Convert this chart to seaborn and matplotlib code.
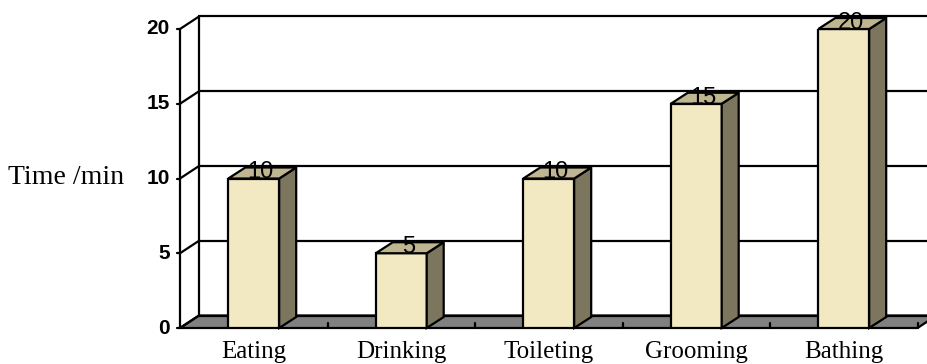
import numpy as np
import matplotlib
matplotlib.use("Agg")
import matplotlib.pyplot as plt
import seaborn as sns
from matplotlib.patches import Polygon

# data
categories = ["Eating", "Drinking", "Toileting", "Grooming", "Bathing"]
minutes = [10, 5, 10, 15, 20]
y_ticks = [0, 5, 10, 15, 20]
y_label = "Time /min"

front_color = "#F2E8C1"
top_color = "#C0B591"
side_color = "#7D765F"
floor_color = "#808080"

sns.set_style("white")
plt.rcParams["font.family"] = ["Liberation Sans", "DejaVu Sans"]
plt.rcParams["text.color"] = "black"

fig = plt.figure(figsize=(9.27, 3.64), dpi=100)
ax = fig.add_axes([180 / 927, 36 / 364, 737.5 / 927, 299 / 364])
ax.patch.set_alpha(0)

sns.barplot(x=categories, y=minutes, color=front_color, width=0.345,
            edgecolor="black", linewidth=1.6, saturation=1, ax=ax, zorder=3)
ax.set_xlim(-0.5, len(categories) - 0.5)
ax.set_ylim(0, 20)
ax.set_xticks([])
ax.set_yticks([])
ax.set_xlabel("")
ax.set_ylabel("")
for s in ax.spines.values():
    s.set_visible(False)


def shift(x, y, dx, dy):
    # move a data point by some pixels (the 3D depth)
    px = ax.transData.transform([[x, y]])[0] + [dx, dy]
    return ax.transData.inverted().transform([px])[0]


wall_dx, wall_dy = 19, 12.5
bar_dx, bar_dy = 17, 11
xl, xr = -0.5, len(categories) - 0.5
lw = 1.6

bars = list(ax.patches)

# floor
floor = [(xl, 0), (xr, 0), shift(xr, 0, wall_dx, wall_dy), shift(xl, 0, wall_dx, wall_dy)]
ax.add_patch(Polygon(floor, closed=True, facecolor=floor_color, edgecolor="black",
                     linewidth=lw, clip_on=False, zorder=1))

# back wall grid lines + left wall
for v in y_ticks:
    b0 = shift(xl, v, wall_dx, wall_dy)
    b1 = shift(xr + 0.2, v, wall_dx, wall_dy)
    ax.plot([b0[0], b1[0]], [b0[1], b1[1]], color="black", lw=lw, clip_on=False, zorder=1.5)
    ax.plot([xl, b0[0]], [v, b0[1]], color="black", lw=lw, clip_on=False, zorder=1.5)
    t = shift(xl, v, -3, 0)
    ax.plot([t[0], xl], [v, v], color="black", lw=lw, clip_on=False, zorder=1.5)
    ax.text(-0.0136, v, str(v), transform=ax.get_yaxis_transform(), ha="right", va="center",
            fontsize=15, fontweight="bold", color="black")

bl0 = shift(xl, 0, wall_dx, wall_dy)
bl1 = shift(xl, 20, wall_dx, wall_dy)
ax.plot([bl0[0], bl1[0]], [bl0[1], bl1[1]], color="black", lw=lw, clip_on=False, zorder=1.5)
ax.plot([xl, xl], [0, 20], color="black", lw=lw, clip_on=False, zorder=1.5)

# small ticks on the floor front edge
for k in range(1, len(categories) + 1):
    xk = k - 0.5
    t = shift(xk, 0, 0, 5)
    ax.plot([xk, xk], [0, t[1]], color="black", lw=lw, clip_on=False, zorder=1.6)

# 3D faces of the bars
for p, v in zip(bars, minutes):
    x0, w, h = p.get_x(), p.get_width(), p.get_height()
    side = [(x0 + w, 0), (x0 + w, h), shift(x0 + w, h, bar_dx, bar_dy), shift(x0 + w, 0, bar_dx, bar_dy)]
    top = [(x0, h), (x0 + w, h), shift(x0 + w, h, bar_dx, bar_dy), shift(x0, h, bar_dx, bar_dy)]
    ax.add_patch(Polygon(side, closed=True, facecolor=side_color, edgecolor="black",
                         linewidth=lw, clip_on=False, zorder=3.1))
    ax.add_patch(Polygon(top, closed=True, facecolor=top_color, edgecolor="black",
                         linewidth=lw, clip_on=False, zorder=3.1))
    cx = shift(x0 + w / 2, h, 7, 0)[0]
    ax.text(cx, h, str(v), ha="center", va="baseline", fontsize=17, color="black",
            zorder=5, clip_on=False)

# category labels
for i, c in enumerate(categories):
    ax.text(i, -0.1003, c, transform=ax.get_xaxis_transform(), ha="center", va="baseline",
            fontsize=18, color="black", family=["Liberation Serif", "DejaVu Serif"])

fig.text(8 / 927, 1 - 177 / 364, y_label, ha="left", va="center", fontsize=20, color="black",
         family=["Liberation Serif", "DejaVu Serif"])

fig.savefig("out.png", dpi=100)
